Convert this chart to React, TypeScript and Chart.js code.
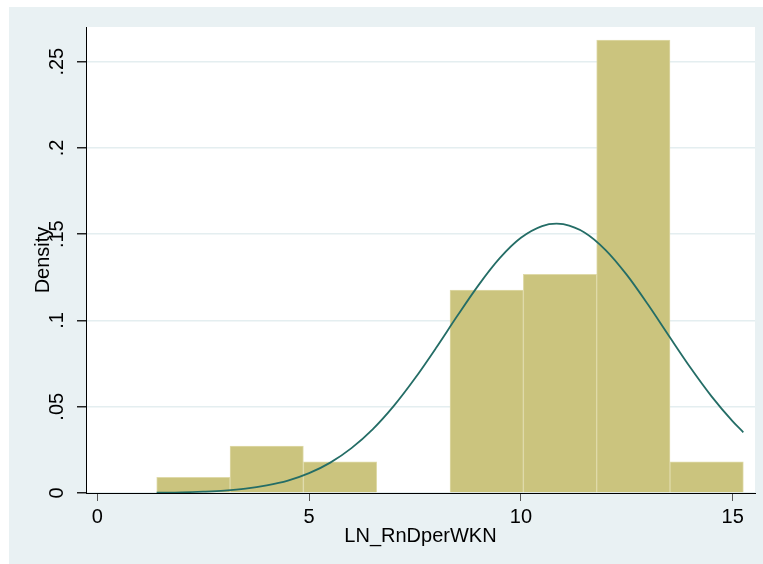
import React, { useEffect, useRef } from "react";
import { Chart, registerables } from "chart.js";

Chart.register(...registerables);

// Histogram bins (centres on the x axis) and their densities
const binCenters = [2.268, 3.999, 5.73, 7.461, 9.192, 10.923, 12.654, 14.385];
const binDensity = [0.0091, 0.0272, 0.0181, 0, 0.1176, 0.1267, 0.2625, 0.0181];

// Normal density curve
const curveX = [1.4, 2, 2.5, 3, 3.5, 4, 4.5, 5, 5.5, 6, 6.5, 7, 7.5, 8, 8.5, 9, 9.5, 10, 10.5, 10.84, 11, 11.5, 12, 12.5, 13, 13.5, 14, 14.5, 15, 15.25];
const curveY = [0.0002, 0.0004, 0.0008, 0.0014, 0.0025, 0.0044, 0.0072, 0.0115, 0.0176, 0.026, 0.0369, 0.0505, 0.0665, 0.0842, 0.1027, 0.1205, 0.1361, 0.1479, 0.1547, 0.1561, 0.1558, 0.151, 0.1408, 0.1264, 0.1092, 0.0908, 0.0727, 0.056, 0.0415, 0.0352];

// Tick labels
const xTickValues = [0, 5, 10, 15];
const xTickLabels = ["0", "5", "10", "15"];
const yTickValues = [0, 0.05, 0.1, 0.15, 0.2, 0.25];
const yTickLabels = ["0", ".05", ".1", ".15", ".2", ".25"];

const xTitle = "LN_RnDperWKN";
const yTitle = "Density";

function labelFor(values: number[], labels: string[], v: number): string {
  for (let i = 0; i < values.length; i++) {
    if (Math.abs(values[i] - v) < 1e-6) return labels[i];
  }
  return "";
}

const plotBg = {
  id: "plotBg",
  beforeDraw(chart: any) {
    const { ctx, chartArea } = chart;
    ctx.save();
    ctx.fillStyle = "#ffffff";
    ctx.fillRect(chartArea.left, chartArea.top, chartArea.right - chartArea.left, chartArea.bottom - chartArea.top);
    ctx.restore();
  },
};

export default function App() {
  const ref = useRef<HTMLCanvasElement | null>(null);

  useEffect(() => {
    if (!ref.current) return;
    Chart.defaults.font.family = "'Liberation Sans', Arial, Helvetica, sans-serif";
    const chart = new Chart(ref.current, {
      type: "bar",
      data: {
        datasets: [
          {
            type: "line",
            label: "Normal",
            data: curveX.map((x, i) => ({ x, y: curveY[i] })),
            borderColor: "#246d66",
            borderWidth: 1.8,
            pointRadius: 0,
            cubicInterpolationMode: "monotone",
            fill: false,
            order: 0,
          } as any,
          {
            type: "bar",
            label: "Density",
            data: binCenters.map((x, i) => ({ x, y: binDensity[i] })),
            backgroundColor: "#cbc47e",
            borderColor: "#dfdaa9",
            borderWidth: 1,
            barPercentage: 1,
            categoryPercentage: 1,
            order: 1,
          } as any,
        ],
      },
      options: {
        responsive: false,
        animation: false,
        devicePixelRatio: 1,
        layout: { padding: { left: 0, top: 27, right: 8, bottom: 0 } },
        plugins: { legend: { display: false }, tooltip: { enabled: false } },
        scales: {
          x: {
            type: "linear",
            min: -0.267,
            max: 15.526,
            offset: false,
            ticks: {
              stepSize: 5,
              includeBounds: false,
              autoSkip: false,
              maxRotation: 0,
              minRotation: 0,
              padding: 4,
              color: "#000",
              font: { size: 20 },
              callback: (v: any) => labelFor(xTickValues, xTickLabels, Number(v)),
            },
            grid: {
              offset: false,
              drawOnChartArea: false,
              drawTicks: true,
              tickLength: 8,
              tickColor: "#555",
            },
            border: { display: true, color: "#000", width: 1 },
            title: {
              display: true,
              text: xTitle,
              color: "#000",
              font: { size: 20 },
              padding: { top: 0, bottom: 16 },
            },
            afterFit: (s: any) => {
              s.height = 71;
            },
          } as any,
          y: {
            type: "linear",
            min: 0,
            max: 0.2701,
            ticks: {
              stepSize: 0.05,
              includeBounds: false,
              minRotation: 90,
              maxRotation: 90,
              crossAlign: "center",
              padding: 6,
              color: "#000",
              font: { size: 20 },
              callback: (v: any) => labelFor(yTickValues, yTickLabels, Number(v)),
            },
            grid: {
              color: "#e4eef0",
              lineWidth: 1.5,
              drawTicks: true,
              tickLength: 9,
              tickColor: "#222",
            },
            border: { display: true, color: "#000", width: 1 },
            title: {
              display: true,
              text: yTitle,
              color: "#000",
              font: { size: 20 },
              padding: { top: 31, bottom: 0 },
            },
            afterFit: (s: any) => {
              s.width = 86;
            },
          } as any,
        },
      },
      plugins: [plotBg],
    });
    return () => chart.destroy();
  }, []);

  return (
    <div style={{ position: "fixed", left: 0, top: 0, width: 763, height: 564, background: "#ffffff" }}>
      <div style={{ position: "absolute", left: 9, top: 7, width: 754, height: 557, background: "#e9f1f3" }} />
      <canvas ref={ref} width={763} height={564} style={{ position: "absolute", left: 0, top: 0, width: 763, height: 564 }} />
    </div>
  );
}
